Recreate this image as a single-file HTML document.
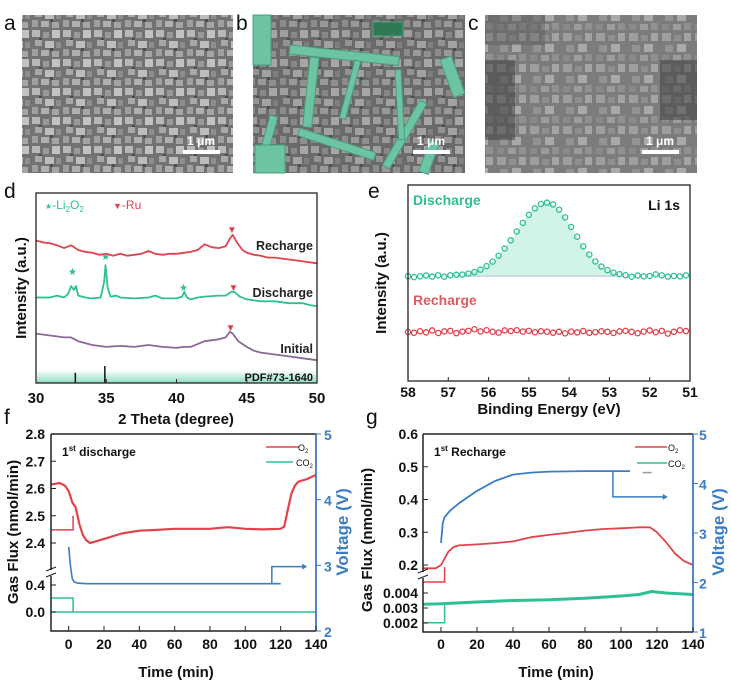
<!DOCTYPE html>
<html><head><meta charset="utf-8"><style>
html,body{margin:0;padding:0;background:#fff;}
svg{display:block;font-family:"Liberation Sans",sans-serif;}
.tk{font-size:14px;font-weight:bold;fill:#111;}
.tt{font-size:15px;font-weight:bold;fill:#111;}
.pl{font-size:21px;fill:#111;}
</style></head><body>
<svg id="fig" width="731" height="684" viewBox="0 0 731 684">
<defs>
<pattern id="semA" width="31" height="29" patternUnits="userSpaceOnUse">
<rect width="31" height="29" fill="#727272"/>
<rect x="1" y="1" width="8" height="7" fill="#b8b8b8"/><rect x="12" y="3" width="6" height="6" fill="#9a9a9a"/>
<rect x="21" y="1" width="8" height="8" fill="#c2c2c2"/><rect x="4" y="11" width="7" height="6" fill="#a8a8a8"/>
<rect x="14" y="12" width="9" height="7" fill="#bdbdbd"/><rect x="25" y="13" width="5" height="6" fill="#8e8e8e"/>
<rect x="1" y="20" width="6" height="7" fill="#9f9f9f"/><rect x="10" y="21" width="8" height="6" fill="#b0b0b0"/>
<rect x="21" y="22" width="7" height="6" fill="#a5a5a5"/><rect x="8" y="9" width="3" height="2" fill="#4a4a4a"/>
<rect x="19" y="19" width="3" height="3" fill="#4e4e4e"/>
</pattern>
<pattern id="semC" width="33" height="31" patternUnits="userSpaceOnUse">
<rect width="33" height="31" fill="#7c7c7c"/>
<rect x="2" y="2" width="9" height="8" fill="#9e9e9e"/><rect x="14" y="4" width="7" height="6" fill="#8f8f8f"/>
<rect x="24" y="2" width="7" height="8" fill="#a4a4a4"/><rect x="5" y="14" width="8" height="7" fill="#939393"/>
<rect x="17" y="13" width="9" height="8" fill="#a9a9a9"/><rect x="2" y="24" width="7" height="6" fill="#8a8a8a"/>
<rect x="13" y="24" width="8" height="6" fill="#9c9c9c"/><rect x="24" y="23" width="7" height="7" fill="#909090"/>
</pattern>
<linearGradient id="pdfg" x1="0" y1="0" x2="0" y2="1"><stop offset="0" stop-color="#ffffff"/><stop offset="1" stop-color="#8fdcc6"/></linearGradient>
</defs>

<text class="pl" x="4" y="30">a</text>
<rect x="22" y="15" width="211" height="158" fill="url(#semA)"/>
<rect x="183" y="150" width="37" height="4" fill="#fff"/>
<text x="201" y="145" font-size="12" font-weight="bold" fill="#fff" text-anchor="middle">1 μm</text>

<text class="pl" x="236" y="30">b</text>
<g>
<rect x="253" y="15" width="212" height="158" fill="url(#semA)"/>
<rect x="253" y="15" width="212" height="158" fill="#555" opacity="0.25"/>
<g fill="#6cc4a2" stroke="#4a9d7f" stroke-width="1">
<rect x="290" y="45" width="110" height="9" transform="rotate(6 290 45)"/>
<rect x="300" y="128" width="80" height="8" transform="rotate(18 300 128)"/>
<rect x="310" y="57" width="9" height="70" transform="rotate(6 310 57)"/>
<rect x="355" y="60" width="6" height="60" transform="rotate(15 355 60)"/>
<rect x="270" y="115" width="8" height="55" transform="rotate(15 270 115)"/>
<rect x="420" y="100" width="8" height="75" transform="rotate(30 420 100)"/>
<rect x="395" y="70" width="6" height="70" transform="rotate(-3 395 70)"/>
<rect x="440" y="60" width="12" height="40" transform="rotate(-20 440 60)"/>
<rect x="373" y="22" width="30" height="14" fill="#2f7a55"/>
<rect x="253" y="15" width="18" height="50"/>
<rect x="255" y="145" width="30" height="28"/>
<rect x="430" y="140" width="10" height="33" transform="rotate(20 430 140)"/>
</g>
<rect x="413" y="150" width="37" height="4" fill="#fff"/>
<text x="431" y="145" font-size="12" font-weight="bold" fill="#fff" text-anchor="middle">1 μm</text>
</g>

<text class="pl" x="468" y="30">c</text>
<g>
<rect x="485" y="15" width="212" height="158" fill="url(#semC)"/>
<rect x="485" y="60" width="30" height="80" fill="#3c3c3c" opacity="0.5"/>
<rect x="660" y="60" width="37" height="60" fill="#3c3c3c" opacity="0.5"/>
<rect x="485" y="15" width="60" height="30" fill="#5a5a5a" opacity="0.4"/>
<rect x="642" y="150" width="37" height="4" fill="#fff"/>
<text x="660" y="145" font-size="12" font-weight="bold" fill="#fff" text-anchor="middle">1 μm</text>
</g>

<text class="pl" x="4" y="198">d</text>
<g id="pd"></g>
<text class="pl" x="368" y="198">e</text>
<g id="pe"></g>
<text class="pl" x="4" y="424">f</text>
<g id="pf"></g>
<text class="pl" x="366" y="424">g</text>
<g id="pg"></g>
</svg>
<script>
const xrdTheta = [30,30.5,31,31.5,32,32.5,33,33.5,34,34.5,35,35.5,36,36.5,37,37.5,38,38.5,39,39.5,40,40.5,41,41.5,42,42.5,43,43.5,43.8,44,44.3,44.7,45,45.5,46,46.5,47,47.5,48,48.5,49,49.5,50];
const xrdRecharge = [75,74,73.5,72.5,71,72.5,70,69,68.5,67.5,68,67,68,67,67.5,68,69.5,68,67.5,68,68,68.5,69,70,73,71.5,71,72,76,78,74,70,68.5,67.5,67,66,66,65.5,65,64.5,64,63.5,63];
const xrdDisTheta = [30,31,31.5,32,32.3,32.5,32.7,32.85,33,33.5,34,34.6,34.85,34.95,35.1,35.3,35.7,36,37,38,38.5,39,40,40.4,40.55,40.75,41,41.5,42,43,43.5,43.9,44.1,44.5,45,46,47,48,49,49.5,50];
const xrdDischarge = [45,45,46,45,47,51,49,51,46,45,44.5,45,53,62,50,45.5,46,45,44.5,45,46,44.5,44.5,45.5,48,45,44,45,45.5,46,46,48,48,45.5,44,43,43,42,42,41,40.5];
const xrdIniTheta = [30,31,32,32.5,33,34,35,36,37,38,39,40,40.5,41,42,43,43.5,43.8,44,44.4,45,45.5,46,47,48,49,50];
const xrdInitial = [26,25,24,24,22,20,19,19.5,19,20,19,18.5,19,19,22,23,24,27,26,22,19,17,16,15,14,13,12];
const xrdTicks = [30,35,40,45,50];
const pdfLines = [32.8,34.9];
const pdfHeights = [6,10];

const xpsEnergy = [58,57.85,57.7,57.55,57.4,57.25,57.1,56.95,56.8,56.65,56.5,56.35,56.2,56.05,55.9,55.75,55.6,55.45,55.3,55.15,55.0,54.85,54.7,54.55,54.4,54.25,54.1,53.95,53.8,53.65,53.5,53.35,53.2,53.05,52.9,52.75,52.6,52.45,52.3,52.15,52.0,51.85,51.7,51.55,51.4,51.25,51.1];
const xpsDischarge = [53.5,53,53.4,53.8,53.3,53.9,53.2,53.9,54.2,54.3,54.8,55.6,56.8,58.6,60.9,63.9,67.6,71.8,76.3,80.7,84.8,88.1,90.3,91,90.1,87.4,83.5,78.6,73.6,68.7,64.5,61,58.4,56.6,55.3,54.5,54,53.2,53.8,53.4,53.6,54.4,53.9,53.3,53.6,53.4,53.9];
const xpsRecharge = [25,24.6,25.4,24.8,25.8,24.5,25.3,25.6,24.4,25.2,25.6,26.4,25.3,25.9,25.1,24.7,25.8,25.5,25.9,25.2,25.6,24.9,25.4,25.2,24.6,25.1,24.3,25.2,24.8,25.5,24.6,24.9,25.4,25.1,24.5,25.3,25.6,25.1,24.4,25.2,25.8,24.9,25.6,24.2,25.1,25.9,25.5];
const xpsTicks = [58,57,56,55,54,53,52,51];

const fTime = [-10,-5,-2,0,2,4,6,8,10,12,15,20,30,40,50,60,70,80,90,100,110,120,122,124,126,128,130,135,140];
const fO2 = [2.615,2.62,2.61,2.59,2.55,2.53,2.47,2.43,2.41,2.40,2.405,2.415,2.435,2.445,2.448,2.452,2.452,2.452,2.458,2.452,2.45,2.452,2.46,2.52,2.58,2.61,2.625,2.635,2.65];
const fCo2Time = [-10,140];
const fCo2 = [0,0];
const fVTime = [0,1,2,3,5,10,120];
const fVolt = [3.28,3.0,2.8,2.75,2.73,2.72,2.72];
const fUpperTicks = [2.4,2.5,2.6,2.7,2.8];
const fLowerTicks = [0.0,0.4];
const fVTicks = [2,3,4,5];
const timeTicks = [0,20,40,60,80,100,120,140];

const gTime = [-10,-3,0,2,4,7,10,20,30,40,50,60,70,80,90,100,110,116,120,125,130,135,140];
const gO2 = [0.19,0.19,0.2,0.22,0.24,0.255,0.26,0.263,0.267,0.272,0.285,0.292,0.298,0.305,0.31,0.312,0.315,0.315,0.3,0.27,0.235,0.212,0.2];
const gCo2Time = [-10,0,20,40,60,80,100,110,117,125,140];
const gCo2 = [0.00325,0.00328,0.0034,0.0035,0.00355,0.00365,0.0038,0.0039,0.0041,0.004,0.0039];
const gVTime = [0,1,2,5,10,20,30,40,50,60,80,100,105];
const gVolt = [2.8,3.2,3.32,3.45,3.6,3.85,4.05,4.18,4.22,4.24,4.25,4.25,4.25];
const gUpperTicks = [0.2,0.3,0.4,0.5,0.6];
const gLowerTicks = [0.002,0.003,0.004];
const gVTicks = [1,2,3,4,5];

const NS = "http://www.w3.org/2000/svg";
function mk(tag, attrs, parent){
  const e = document.createElementNS(NS, tag);
  for (const k in attrs) e.setAttribute(k, attrs[k]);
  parent.appendChild(e);
  return e;
}
function txt(s, attrs, parent){ const t = mk('text', attrs, parent); t.textContent = s; return t; }
function lin(d0,d1,r0,r1){ return v => r0 + (v-d0)/(d1-d0)*(r1-r0); }
function pathOf(xs, ys, fx, fy){ return xs.map((x,i)=>(i?'L':'M')+fx(x).toFixed(1)+' '+fy(ys[i]).toFixed(1)).join(''); }

const RED='#e0434c', TEAL='#2fbf95', PURPLE='#8a6a94', BLUE='#3b7cc4';

(function(){
  const g = document.getElementById('pd');
  const X = lin(30,50,36,317), Y = lin(0,100,383,193);
  const band = mk('rect',{x:37,y:370,width:279,height:13,fill:'url(#pdfg)'},g);
  
  
  pdfLines.forEach((p,i)=>{
    const l = mk('line',{x1:X(p),x2:X(p),y1:383-pdfHeights[i]*1.7,y2:383,stroke:'#111','stroke-width':1.5},g);
    
    
  });
  txt('PDF#73-1640',{x:313,y:381,'text-anchor':'end','font-size':11,'font-weight':'bold',fill:'#111'},g);
  const series = [[xrdTheta,xrdRecharge,RED,'recharge'],[xrdDisTheta,xrdDischarge,TEAL,'discharge'],[xrdIniTheta,xrdInitial,PURPLE,'initial']];
  series.forEach(s=>{
    const p = mk('path',{d:pathOf(s[0],s[1],X,Y),fill:'none',stroke:s[2],'stroke-width':1.8,'stroke-linejoin':'round'},g);
    
    
  });
  const frame = mk('rect',{x:36,y:193,width:281,height:190,fill:'none',stroke:'#222','stroke-width':1.3},g);
  
  
  xrdTicks.forEach(t=>{
    mk('line',{x1:X(t),x2:X(t),y1:383,y2:379,stroke:'#222'},g);
    const tl = txt(String(t),{x:X(t),y:403,'text-anchor':'middle','font-size':15,'font-weight':'bold',fill:'#111'},g);
    
    
  });
  txt('2 Theta (degree)',{x:176,y:424,'text-anchor':'middle',class:'tt'},g);
  txt('Intensity (a.u.)',{x:26,y:288,'text-anchor':'middle',class:'tt',transform:'rotate(-90 26 288)'},g);
  txt('Recharge',{x:313,y:250,'text-anchor':'end','font-size':12.5,'font-weight':'bold',fill:'#222'},g);
  txt('Discharge',{x:313,y:297,'text-anchor':'end','font-size':12.5,'font-weight':'bold',fill:'#222'},g);
  txt('Initial',{x:313,y:353,'text-anchor':'end','font-size':12.5,'font-weight':'bold',fill:'#222'},g);
  [[32.6,277],[34.95,262],[40.5,293]].forEach(s=>txt('★',{x:X(s[0]),y:s[1]-2,'text-anchor':'middle','font-size':10,fill:TEAL},g));
  [[43.95,233],[44.05,291],[43.85,331]].forEach(s=>txt('▼',{x:X(s[0]),y:s[1],'text-anchor':'middle','font-size':10,fill:RED},g));
  const lg = txt('',{x:45,y:209,'font-size':12,fill:TEAL},g);
  lg.innerHTML = '<tspan font-size="8">★</tspan>-Li<tspan font-size="8" dy="3">2</tspan><tspan dy="-3">O</tspan><tspan font-size="8" dy="3">2</tspan>';
  
  
  const lr = txt('',{x:113,y:209,'font-size':12,fill:RED},g);
  lr.innerHTML = '<tspan font-size="9">▼</tspan>-Ru';
  
  
})();

(function(){
  const g = document.getElementById('pe');
  const X = lin(58,51,408,690), Y = lin(0,100,381,185);
  const base = 53.5;
  const fillD = pathOf(xpsEnergy,xpsDischarge,X,Y)+'L'+X(51.1)+' '+Y(base)+'L'+X(58)+' '+Y(base)+'Z';
  const f = mk('path',{d:fillD,fill:'#bfeedd',opacity:0.7},g);
  
  
  mk('line',{x1:X(56.6),x2:X(52.8),y1:Y(base),y2:Y(base),stroke:'#9ad',"stroke-width":0.8},g);
  [[xpsDischarge,TEAL,'discharge'],[xpsRecharge,RED,'recharge']].forEach(s=>{
    xpsEnergy.forEach((e,i)=>{
      const c = mk('circle',{cx:X(e),cy:Y(s[0][i]),r:2.6,fill:'none',stroke:s[1],'stroke-width':1.3},g);
      
      
    });
  });
  const frame = mk('rect',{x:408,y:185,width:282,height:196,fill:'none',stroke:'#222','stroke-width':1.3},g);
  
  
  xpsTicks.forEach(t=>{
    mk('line',{x1:X(t),x2:X(t),y1:381,y2:377,stroke:'#222'},g);
    const tl = txt(String(t),{x:X(t),y:397,'text-anchor':'middle','font-size':14,'font-weight':'bold',fill:'#111'},g);
    
    
  });
  txt('Binding Energy (eV)',{x:549,y:414,'text-anchor':'middle',class:'tt'},g);
  txt('Intensity (a.u.)',{x:386,y:283,'text-anchor':'middle',class:'tt',transform:'rotate(-90 386 283)'},g);
  txt('Discharge',{x:413,y:205,'font-size':14,'font-weight':'bold',fill:TEAL},g);
  txt('Recharge',{x:413,y:305,'font-size':14,'font-weight':'bold',fill:'#e05a60'},g);
  txt('Li 1s',{x:680,y:210,'text-anchor':'end','font-size':14,'font-weight':'bold',fill:'#111'},g);
})();

(function(){
  const g = document.getElementById('pf');
  const X = lin(-10,140,51,316);
  const YU = lin(2.4,2.8,543,434), YL = lin(0,0.4,612,585), YV = lin(2,5,631,434);
  mk('path',{d:`M${X(-10)} ${YU(2.448)}H${X(2.5)}V${YU(2.5)}`,fill:'none',stroke:RED,'stroke-width':1.5},g);
  mk('path',{d:`M${X(-10)} ${YL(0.207)}H${X(2.5)}V${YL(0)}`,fill:'none',stroke:TEAL,'stroke-width':1.5},g);
  mk('path',{d:`M${X(115)} ${YV(2.72)}V${YV(2.98)}H${X(133)}`,fill:'none',stroke:BLUE,'stroke-width':1.5},g);
  mk('path',{d:`M${X(135)} ${YV(2.98)}l-5 -3v6z`,fill:BLUE},g);
  const co2 = mk('path',{d:pathOf(fCo2Time,fCo2,X,YL),fill:'none',stroke:TEAL,'stroke-width':1.6},g);
  
  
  const o2 = mk('path',{d:pathOf(fTime,fO2,X,YU),fill:'none',stroke:RED,'stroke-width':2.2,'stroke-linejoin':'round'},g);
  
  
  const v = mk('path',{d:pathOf(fVTime,fVolt,X,YV),fill:'none',stroke:BLUE,'stroke-width':1.6},g);
  
  
  mk('path',{d:'M51 434V570M51 576V631H316',fill:'none',stroke:'#222','stroke-width':1.5},g);
  mk('path',{d:'M46 571l10 -4M46 577l10 -4',fill:'none',stroke:'#222','stroke-width':1.2},g);
  mk('line',{x1:51,x2:316,y1:434,y2:434,stroke:'#222','stroke-width':1.5},g);
  mk('line',{x1:316,x2:316,y1:434,y2:631,stroke:BLUE,'stroke-width':1.8},g);
  fUpperTicks.forEach(t=>{ mk('line',{x1:51,x2:56,y1:YU(t),y2:YU(t),stroke:'#222'},g);
    const tl = txt(t.toFixed(1),{x:45,y:YU(t)+5,'text-anchor':'end',class:'tk','font-size':15},g);
    
     });
  fLowerTicks.forEach(t=>{ mk('line',{x1:51,x2:56,y1:YL(t),y2:YL(t),stroke:'#222'},g);
    txt(t.toFixed(1),{x:45,y:YL(t)+5,'text-anchor':'end',class:'tk','font-size':15},g); });
  fVTicks.forEach(t=>{ mk('line',{x1:316,x2:321,y1:YV(t),y2:YV(t),stroke:BLUE},g);
    txt(String(t),{x:324,y:YV(t)+6,class:'tk','font-size':16,style:'fill:'+BLUE},g); });
  timeTicks.forEach(t=>{ mk('line',{x1:X(t),x2:X(t),y1:631,y2:626,stroke:'#222'},g);
    const tl = txt(String(t),{x:X(t),y:649,'text-anchor':'middle',class:'tk','font-size':15},g);
    
     });
  txt('Time (min)',{x:176,y:677,'text-anchor':'middle',class:'tt','font-size':16},g);
  txt('Gas Flux (nmol/min)',{x:18,y:532,'text-anchor':'middle',class:'tt','font-size':16,transform:'rotate(-90 18 532)'},g);
  txt('Voltage (V)',{x:348,y:532,'text-anchor':'middle','font-size':17,'font-weight':'bold',fill:BLUE,transform:'rotate(-90 348 532)'},g);
  const t1 = txt('',{x:62,y:456,'font-size':12,'font-weight':'bold',fill:'#111'},g);
  t1.innerHTML='1<tspan font-size="8" dy="-5">st</tspan><tspan dy="5"> discharge</tspan>';
  mk('line',{x1:266,x2:299,y1:447,y2:447,stroke:RED,'stroke-width':1.6},g);
  mk('line',{x1:266,x2:293,y1:462,y2:462,stroke:TEAL,'stroke-width':1.6},g);
  const l1 = txt('',{x:298,y:451,'font-size':9,fill:'#111'},g); l1.innerHTML='O<tspan font-size="6" dy="2">2</tspan>';
  const l2 = txt('',{x:296,y:466,'font-size':9,fill:'#111'},g); l2.innerHTML='CO<tspan font-size="6" dy="2">2</tspan>';
})();

(function(){
  const g = document.getElementById('pg');
  const X = lin(-10,140,423,693);
  const YU = lin(0.2,0.6,565,434), YL = lin(0.002,0.004,623,593), YV = lin(1,5,632,434);
  mk('path',{d:`M${X(-10)} 582H${X(2)}V567`,fill:'none',stroke:RED,'stroke-width':1.5},g);
  mk('path',{d:`M${X(-10)} ${YL(0.00202)}H${X(2)}V${YL(0.00333)}`,fill:'none',stroke:TEAL,'stroke-width':1.5},g);
  mk('path',{d:`M${X(95.5)} ${YV(4.25)}V${YV(3.73)}H${X(124)}`,fill:'none',stroke:BLUE,'stroke-width':1.5},g);
  mk('path',{d:`M${X(126)} ${YV(3.73)}l-5 -3v6z`,fill:BLUE},g);
  mk('line',{x1:X(112),x2:X(117),y1:YV(4.22),y2:YV(4.22),stroke:'#999','stroke-width':1.5},g);
  const co2 = mk('path',{d:pathOf(gCo2Time,gCo2,X,YL),fill:'none',stroke:TEAL,'stroke-width':3,'stroke-linejoin':'round'},g);
  
  
  const o2 = mk('path',{d:pathOf(gTime,gO2,X,YU),fill:'none',stroke:RED,'stroke-width':1.8,'stroke-linejoin':'round'},g);
  
  
  const v = mk('path',{d:pathOf(gVTime,gVolt,X,YV),fill:'none',stroke:BLUE,'stroke-width':1.8,'stroke-linejoin':'round'},g);
  
  
  mk('path',{d:'M423 434V572M423 578V632H693',fill:'none',stroke:'#222','stroke-width':1.5},g);
  mk('path',{d:'M418 573l10 -4M418 579l10 -4',fill:'none',stroke:'#222','stroke-width':1.2},g);
  mk('line',{x1:423,x2:693,y1:434,y2:434,stroke:'#222','stroke-width':1.5},g);
  mk('line',{x1:693,x2:693,y1:434,y2:632,stroke:BLUE,'stroke-width':1.8},g);
  gUpperTicks.forEach(t=>{ mk('line',{x1:423,x2:428,y1:YU(t),y2:YU(t),stroke:'#222'},g);
    const tl = txt(t.toFixed(1),{x:418,y:YU(t)+5,'text-anchor':'end',class:'tk','font-size':15},g);
    
     });
  gLowerTicks.forEach(t=>{ mk('line',{x1:423,x2:428,y1:YL(t),y2:YL(t),stroke:'#222'},g);
    txt(t.toFixed(3),{x:418,y:YL(t)+5,'text-anchor':'end',class:'tk','font-size':15},g); });
  gVTicks.forEach(t=>{ mk('line',{x1:693,x2:698,y1:YV(t),y2:YV(t),stroke:BLUE},g);
    txt(String(t),{x:699,y:YV(t)+6,class:'tk','font-size':16,style:'fill:'+BLUE},g); });
  timeTicks.forEach(t=>{ mk('line',{x1:X(t),x2:X(t),y1:632,y2:627,stroke:'#222'},g);
    const tl = txt(String(t),{x:X(t),y:649,'text-anchor':'middle',class:'tk','font-size':15},g);
    
     });
  txt('Time (min)',{x:556,y:677,'text-anchor':'middle',class:'tt','font-size':16},g);
  txt('Gas Flux (nmol/min)',{x:372,y:540,'text-anchor':'middle',class:'tt','font-size':16,transform:'rotate(-90 372 540)'},g);
  txt('Voltage (V)',{x:724,y:532,'text-anchor':'middle','font-size':17,'font-weight':'bold',fill:BLUE,transform:'rotate(-90 724 532)'},g);
  const t1 = txt('',{x:434,y:456,'font-size':12,'font-weight':'bold',fill:'#111'},g);
  t1.innerHTML='1<tspan font-size="8" dy="-5">st</tspan><tspan dy="5"> Recharge</tspan>';
  mk('line',{x1:635,x2:667,y1:447,y2:447,stroke:RED,'stroke-width':1.6},g);
  mk('line',{x1:637,x2:667,y1:463,y2:463,stroke:TEAL,'stroke-width':1.6},g);
  const l1 = txt('',{x:668,y:451,'font-size':9,fill:'#111'},g); l1.innerHTML='O<tspan font-size="6" dy="2">2</tspan>';
  const l2 = txt('',{x:668,y:467,'font-size':9,fill:'#111'},g); l2.innerHTML='CO<tspan font-size="6" dy="2">2</tspan>';
})();
</script>
</body></html>
